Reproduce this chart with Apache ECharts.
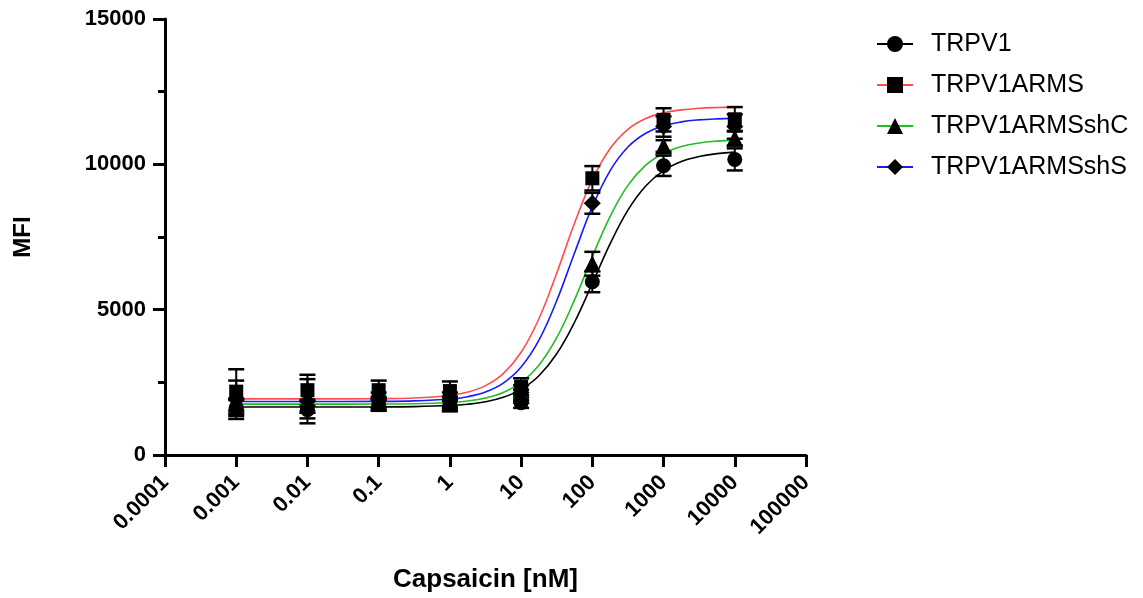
<!DOCTYPE html>
<html>
<head>
<meta charset="utf-8">
<script src="https://cdn.jsdelivr.net/npm/echarts@6/dist/echarts.min.js"></script>
<style>
  html, body { margin: 0; padding: 0; background: #fff; }
  #chart { width: 1143px; height: 598px; }
</style>
</head>
<body>
<div id="chart"></div>
<script>
// Capsaicin dose-response: mean fluorescence intensity per cell line
const seriesNames = ['TRPV1', 'TRPV1ARMS', 'TRPV1ARMSshC', 'TRPV1ARMSshS'];
const seriesColors = ['#000000', '#ff4d4d', '#1fbf1f', '#1a1aff'];
const seriesSymbols = ['circle', 'rect', 'triangle', 'diamond'];
const seriesSymbolSizes = [15, 14, 17, 17];

// tested concentrations (nM)
const concentrations = [0.001, 0.01, 0.1, 1, 10, 100, 1000, 10000];

// measured means and SEM
const meanTRPV1 = [1620, 1560, 1740, 1750, 1800, 5960, 9950, 10170];
const semTRPV1 = [280, 300, 220, 250, 180, 360, 350, 380];
const meanARMS = [2180, 2230, 2230, 2200, 2350, 9520, 11530, 11550];
const semARMS = [770, 530, 330, 330, 290, 420, 400, 420];
const meanShC = [1750, 1700, 1800, 1800, 2050, 6580, 10630, 10900];
const semShC = [200, 200, 200, 200, 200, 410, 200, 250];
const meanShS = [1900, 1850, 1900, 1900, 2150, 8660, 11300, 11300];
const semShS = [660, 760, 250, 250, 250, 360, 350, 420];

// fitted curves, sampled along the concentration range (quarter-decade steps above 1 nM)
const curveConc = [0.001, 0.01, 0.1, 0.316, 1, 1.78, 3.16, 5.62, 10, 17.8, 31.6, 56.2, 100, 178, 316, 562, 1000, 1778, 3162, 5623, 10000];
const fitTRPV1 = [1650, 1650, 1654, 1665, 1701, 1746, 1830, 1983, 2257, 2727, 3482, 4567, 5903, 7269, 8425, 9255, 9784, 10097, 10272, 10368, 10420];
const fitARMS = [1930, 1930, 1938, 1960, 2049, 2164, 2387, 2802, 3533, 4689, 6254, 7971, 9471, 10544, 11205, 11576, 11773, 11875, 11927, 11953, 11967];
const fitShC = [1750, 1750, 1754, 1765, 1807, 1860, 1961, 2150, 2495, 3091, 4035, 5335, 6827, 8212, 9276, 9971, 10383, 10612, 10735, 10800, 10834];
const fitShS = [1840, 1840, 1845, 1861, 1924, 2007, 2168, 2473, 3027, 3952, 5307, 6950, 8543, 9785, 10597, 11070, 11327, 11461, 11530, 11565, 11582];

// x tick labels, one per decade from 1e-4 to 1e5
const xTickLabels = ['0.0001', '0.001', '0.01', '0.1', '1', '10', '100', '1000', '10000', '100000'];

const means = [meanTRPV1, meanARMS, meanShC, meanShS];
const sems = [semTRPV1, semARMS, semShC, semShS];
const fits = [fitTRPV1, fitARMS, fitShC, fitShS];

const FONT = 'Liberation Sans, Arial, sans-serif';

function errorBar(params, api) {
  const x = api.value(0), m = api.value(1), e = api.value(2);
  const top = api.coord([x, m + e]);
  const bot = api.coord([x, m - e]);
  const hw = 8;
  const style = { stroke: '#000', lineWidth: 2.5 };
  return {
    type: 'group',
    children: [
      { type: 'line', shape: { x1: top[0], y1: top[1], x2: bot[0], y2: bot[1] }, style: { stroke: '#000', lineWidth: 2 } },
      { type: 'line', shape: { x1: top[0] - hw, y1: top[1], x2: top[0] + hw, y2: top[1] }, style },
      { type: 'line', shape: { x1: bot[0] - hw, y1: bot[1], x2: bot[0] + hw, y2: bot[1] }, style }
    ]
  };
}

const series = [];
seriesNames.forEach((name, i) => {
  series.push({
    name: name,
    type: 'line',
    data: curveConc.map((c, k) => [c, fits[i][k]]),
    smooth: 0.4,
    showSymbol: false,
    symbol: seriesSymbols[i],
    itemStyle: { color: '#000' },
    lineStyle: { color: seriesColors[i], width: 1.6 },
    z: 2,
    silent: true
  });
});
seriesNames.forEach((name, i) => {
  series.push({
    type: 'custom',
    renderItem: errorBar,
    data: concentrations.map((c, k) => [c, means[i][k], sems[i][k]]),
    z: 3,
    silent: true
  });
});
seriesNames.forEach((name, i) => {
  series.push({
    type: 'scatter',
    data: concentrations.map((c, k) => [c, means[i][k]]),
    symbol: seriesSymbols[i],
    symbolSize: seriesSymbolSizes[i],
    itemStyle: { color: '#000', opacity: 1 },
    z: 4,
    silent: true
  });
});

const chart = echarts.init(document.getElementById('chart'), null, { renderer: 'canvas' });
chart.setOption({
  animation: false,
  backgroundColor: '#fff',
  grid: { left: 165, right: 337, top: 19, bottom: 143, containLabel: false },
  legend: {
    data: seriesNames,
    orient: 'vertical',
    left: 871,
    top: 26,
    itemWidth: 36,
    itemHeight: 20,
    itemGap: 15,
    selectedMode: false,
    textStyle: { fontFamily: FONT, fontSize: 25, color: '#000', lineHeight: 26, padding: [0, 0, 0, 13] }
  },
  xAxis: {
    type: 'log',
    logBase: 10,
    min: 0.0001,
    max: 100000,
    interval: 1,
    name: 'Capsaicin [nM]',
    nameLocation: 'middle',
    nameGap: 112,
    nameTextStyle: { fontFamily: FONT, fontSize: 26, fontWeight: 'bold', color: '#000' },
    axisLine: { lineStyle: { color: '#000', width: 3 } },
    axisTick: { length: 12, lineStyle: { color: '#000', width: 3 } },
    minorTick: { show: false },
    splitLine: { show: false },
    axisLabel: {
      rotate: 45,
      margin: 24,
      fontFamily: FONT,
      fontSize: 22,
      fontWeight: 'bold',
      color: '#000',
      formatter: v => xTickLabels[Math.round(Math.log10(v)) + 4]
    }
  },
  yAxis: {
    type: 'value',
    min: 0,
    max: 15000,
    interval: 5000,
    name: 'MFI',
    nameLocation: 'middle',
    nameGap: 130,
    nameTextStyle: { fontFamily: FONT, fontSize: 24, fontWeight: 'bold', color: '#000' },
    axisLine: { show: true, lineStyle: { color: '#000', width: 3 } },
    axisTick: { show: true, length: 12, lineStyle: { color: '#000', width: 3 } },
    minorTick: { show: true, splitNumber: 2, length: 7, lineStyle: { color: '#000', width: 3 } },
    splitLine: { show: false },
    axisLabel: {
      margin: 19,
      fontFamily: FONT,
      fontSize: 22,
      fontWeight: 'bold',
      color: '#000',
      formatter: v => String(v)
    }
  },
  series: series
});
</script>
</body>
</html>
